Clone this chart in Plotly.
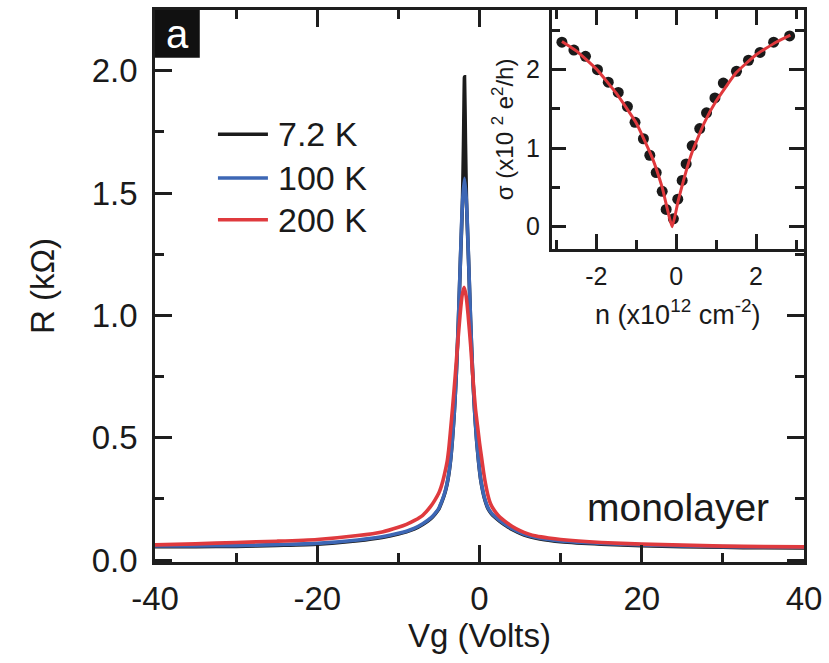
import plotly.graph_objects as go

# ---------------- data ----------------
vg_100 = [-40, -35, -30, -25, -20, -15, -12, -10, -9, -8, -7, -6, -5.5, -5, -4.7, -4.35, -4.1, -3.85,
          -3.6, -3.35, -3.1, -2.85, -2.6, -2.35, -2.1, -1.85, -1.6, -1.35, -1.1, -0.85, -0.6, -0.35,
          -0.1, 0.15, 0.4, 0.65, 0.9, 1.15, 1.6, 2.0, 2.5, 3.0, 3.5, 4.2, 5, 6, 7, 8.5, 10, 15, 20, 25,
          30, 35, 40]
r_100 = [0.058, 0.058, 0.059, 0.063, 0.068, 0.082, 0.095, 0.109, 0.118, 0.13, 0.148, 0.172, 0.19,
         0.212, 0.236, 0.268, 0.298, 0.34, 0.40, 0.49, 0.61, 0.77, 0.98, 1.23, 1.46, 1.56, 1.46, 1.23,
         0.98, 0.77, 0.61, 0.49, 0.40, 0.33, 0.285, 0.25, 0.225, 0.207, 0.187, 0.175, 0.161, 0.149,
         0.138, 0.125, 0.112, 0.100, 0.092, 0.084, 0.078, 0.068, 0.062, 0.058, 0.055, 0.053, 0.052]

vg_72 = [-40, -35, -30, -25, -20, -15, -12, -10, -9, -8, -7, -6, -5.5, -5, -4.7, -4.35, -4.1, -3.85,
         -3.6, -3.35, -3.1, -2.85, -2.6, -2.35, -2.1, -1.97, -1.85, -1.73, -1.6, -1.35, -1.1, -0.85,
         -0.6, -0.35, -0.1, 0.15, 0.4, 0.65, 0.9, 1.15, 1.6, 2.0, 2.5, 3.0, 3.5, 4.2, 5, 6, 7, 8.5, 10,
         15, 20, 25, 30, 35, 40]
r_72 = [0.055, 0.055, 0.056, 0.060, 0.065, 0.079, 0.092, 0.106, 0.115, 0.127, 0.145, 0.169, 0.187,
        0.209, 0.233, 0.265, 0.295, 0.337, 0.397, 0.487, 0.607, 0.767, 0.977, 1.227, 1.46, 1.70, 1.975,
        1.70, 1.46, 1.227, 0.977, 0.767, 0.607, 0.487, 0.397, 0.327, 0.282, 0.247, 0.222, 0.204, 0.184,
        0.172, 0.158, 0.146, 0.135, 0.122, 0.109, 0.097, 0.089, 0.081, 0.075, 0.065, 0.059, 0.055,
        0.052, 0.050, 0.049]

vg_200 = [-40, -35, -30, -25, -20, -15, -12, -10, -9, -8, -7, -6, -5.5, -5, -4.75, -4.5, -4.25, -4,
          -3.8, -3.6, -3.3, -3.0, -2.7, -2.4, -2.15, -1.9, -1.65, -1.4, -1.1, -0.8, -0.5, -0.25, 0,
          0.25, 0.5, 0.75, 1.0, 1.25, 1.5, 2.0, 2.5, 3.0, 4.0, 5.0, 6.0, 7.0, 8.5, 10, 15, 20, 25, 30,
          35, 40]
r_200 = [0.062, 0.066, 0.072, 0.077, 0.084, 0.100, 0.115, 0.134, 0.146, 0.162, 0.183, 0.22, 0.245,
         0.275, 0.297, 0.325, 0.36, 0.40, 0.45, 0.52, 0.63, 0.75, 0.88, 1.00, 1.08, 1.115, 1.08, 1.00,
         0.88, 0.74, 0.62, 0.55, 0.48, 0.42, 0.36, 0.31, 0.27, 0.24, 0.22, 0.195, 0.176, 0.162, 0.138,
         0.120, 0.107, 0.098, 0.090, 0.084, 0.072, 0.065, 0.061, 0.057, 0.055, 0.054]

series_names = ["7.2 K", "100 K", "200 K"]
series_colors = ["#1c1c1c", "#3d67b5", "#df3a3e"]

# inset: conductivity vs density
n_pts = [-2.86, -2.56, -2.27, -1.97, -1.70, -1.45, -1.22, -1.03, -0.82, -0.66, -0.50, -0.35, -0.25,
         -0.07, 0.04, 0.15, 0.25, 0.40, 0.59, 0.76, 0.97, 1.18, 1.51, 1.81, 2.10, 2.44, 2.84]
sigma_pts = [2.35, 2.25, 2.17, 2.00, 1.84, 1.71, 1.53, 1.33, 1.12, 0.91, 0.69, 0.45, 0.22, 0.10, 0.35,
             0.59, 0.80, 1.03, 1.25, 1.45, 1.64, 1.83, 1.98, 2.12, 2.22, 2.35, 2.43]
n_fit = [-2.86, -2.5, -2.0, -1.5, -1.0, -0.6, -0.35, -0.1, 0.05, 0.2, 0.4, 0.7, 1.0, 1.5, 2.0, 2.5, 2.86]
sigma_fit = [2.36, 2.24, 2.01, 1.70, 1.32, 0.88, 0.50, 0.0, 0.33, 0.62, 0.95, 1.32, 1.60, 1.96, 2.19,
             2.35, 2.44]

x_tickvals = [-40, -20, 0, 20, 40]
x_ticktext = ["-40", "-20", "0", "20", "40"]
y_tickvals = [0.0, 0.5, 1.0, 1.5, 2.0]
y_ticktext = ["0.0", "0.5", "1.0", "1.5", "2.0"]
ix_tickvals = [-2, 0, 2]
ix_ticktext = ["-2", "0", "2"]
iy_tickvals = [0, 1, 2]
iy_ticktext = ["0", "1", "2"]

FONT = "Liberation Sans, Arial, Helvetica, sans-serif"
AX = "#1e1e1e"

fig = go.Figure()
for vg, r, name, col in zip([vg_72, vg_100, vg_200], [r_72, r_100, r_200], series_names, series_colors):
    fig.add_trace(go.Scatter(x=vg, y=r, mode="lines", name=name,
                             line=dict(color=col, width=3.6, shape="spline", smoothing=0.6),
                             showlegend=False))

fig.add_trace(go.Scatter(x=n_pts, y=sigma_pts, mode="markers", xaxis="x2", yaxis="y2",
                         marker=dict(color="#1a1a1a", size=11), showlegend=False))
fig.add_trace(go.Scatter(x=n_fit, y=sigma_fit, mode="lines", xaxis="x2", yaxis="y2",
                         line=dict(color="#e0383c", width=3, shape="spline", smoothing=0.4),
                         showlegend=False))

common = dict(showline=True, linecolor=AX, linewidth=2.5, mirror="ticks", ticks="inside",
              tickcolor=AX, tickwidth=2.5, showgrid=False, zeroline=False)

fig.update_layout(
    width=829, height=663,
    margin=dict(l=155, r=24, t=7, b=101),
    paper_bgcolor="white", plot_bgcolor="white",
    font=dict(family=FONT, color="#1a1a1a"),
    xaxis=dict(domain=[0, 1], range=[-40, 40], tickmode="array", tickvals=x_tickvals,
               ticktext=x_ticktext, ticklen=17, tickfont=dict(size=33),
               minor=dict(dtick=10, tick0=0, ticks="inside", ticklen=9, tickwidth=2.5, tickcolor=AX),
               title=dict(text="Vg (Volts)", font=dict(size=33), standoff=4),
               ticklabelstandoff=6, **common),
    yaxis=dict(domain=[0, 1], range=[-0.008, 2.248], tickmode="array", tickvals=y_tickvals,
               ticktext=y_ticktext, ticklen=17, tickfont=dict(size=33),
               minor=dict(dtick=0.25, tick0=0, ticks="inside", ticklen=9, tickwidth=2.5, tickcolor=AX),
               title=dict(text="R (kΩ)", font=dict(size=33), standoff=28),
               ticklabelstandoff=8, **common),
    xaxis2=dict(domain=[0.611, 1.0], anchor="y2", range=[-3.12, 3.2], tickmode="array",
                tickvals=ix_tickvals, ticktext=ix_ticktext, ticklen=15, tickfont=dict(size=25),
                minor=dict(dtick=1, tick0=0, ticks="inside", ticklen=9, tickwidth=2.5, tickcolor=AX),
                title=dict(text="n (x10<sup>12</sup> cm<sup>-2</sup>)", font=dict(size=27), standoff=16),
                ticklabelstandoff=4, **common),
    yaxis2=dict(domain=[0.5676, 1.0], anchor="x2", range=[-0.28, 2.76], tickmode="array",
                tickvals=iy_tickvals, ticktext=iy_ticktext, ticklen=15, tickfont=dict(size=25),
                minor=dict(dtick=0.5, tick0=0, ticks="inside", ticklen=9, tickwidth=2.5, tickcolor=AX),
                title=dict(text="σ (x10 <sup>2</sup> e<sup>2</sup>/h)", font=dict(size=24), standoff=6),
                ticklabelstandoff=4, **common),
)

# panel label "a"
fig.add_shape(type="rect", xref="paper", yref="paper", x0=0, x1=0.069, y0=0.9135, y1=1.0,
              fillcolor="#111111", line=dict(width=0), layer="above")
fig.add_annotation(text="a", xref="paper", yref="paper", x=0.0345, y=0.957, showarrow=False,
                   font=dict(size=40, color="white", family=FONT), xanchor="center", yanchor="middle")

# manual legend
leg_y = [0.7748, 0.6955, 0.6198]
for name, col, yy in zip(series_names, series_colors, leg_y):
    fig.add_shape(type="line", xref="paper", yref="paper", x0=0.097, x1=0.174, y0=yy, y1=yy,
                  line=dict(color=col, width=3.5))
    fig.add_annotation(text=name, xref="paper", yref="paper", x=0.186, y=yy, showarrow=False,
                       xanchor="left", yanchor="middle", font=dict(size=34, family=FONT))

fig.add_annotation(text="monolayer", xref="paper", yref="paper", x=0.806, y=0.099, showarrow=False,
                   xanchor="center", yanchor="middle", font=dict(size=39, family=FONT))

fig.write_html("out.html")
